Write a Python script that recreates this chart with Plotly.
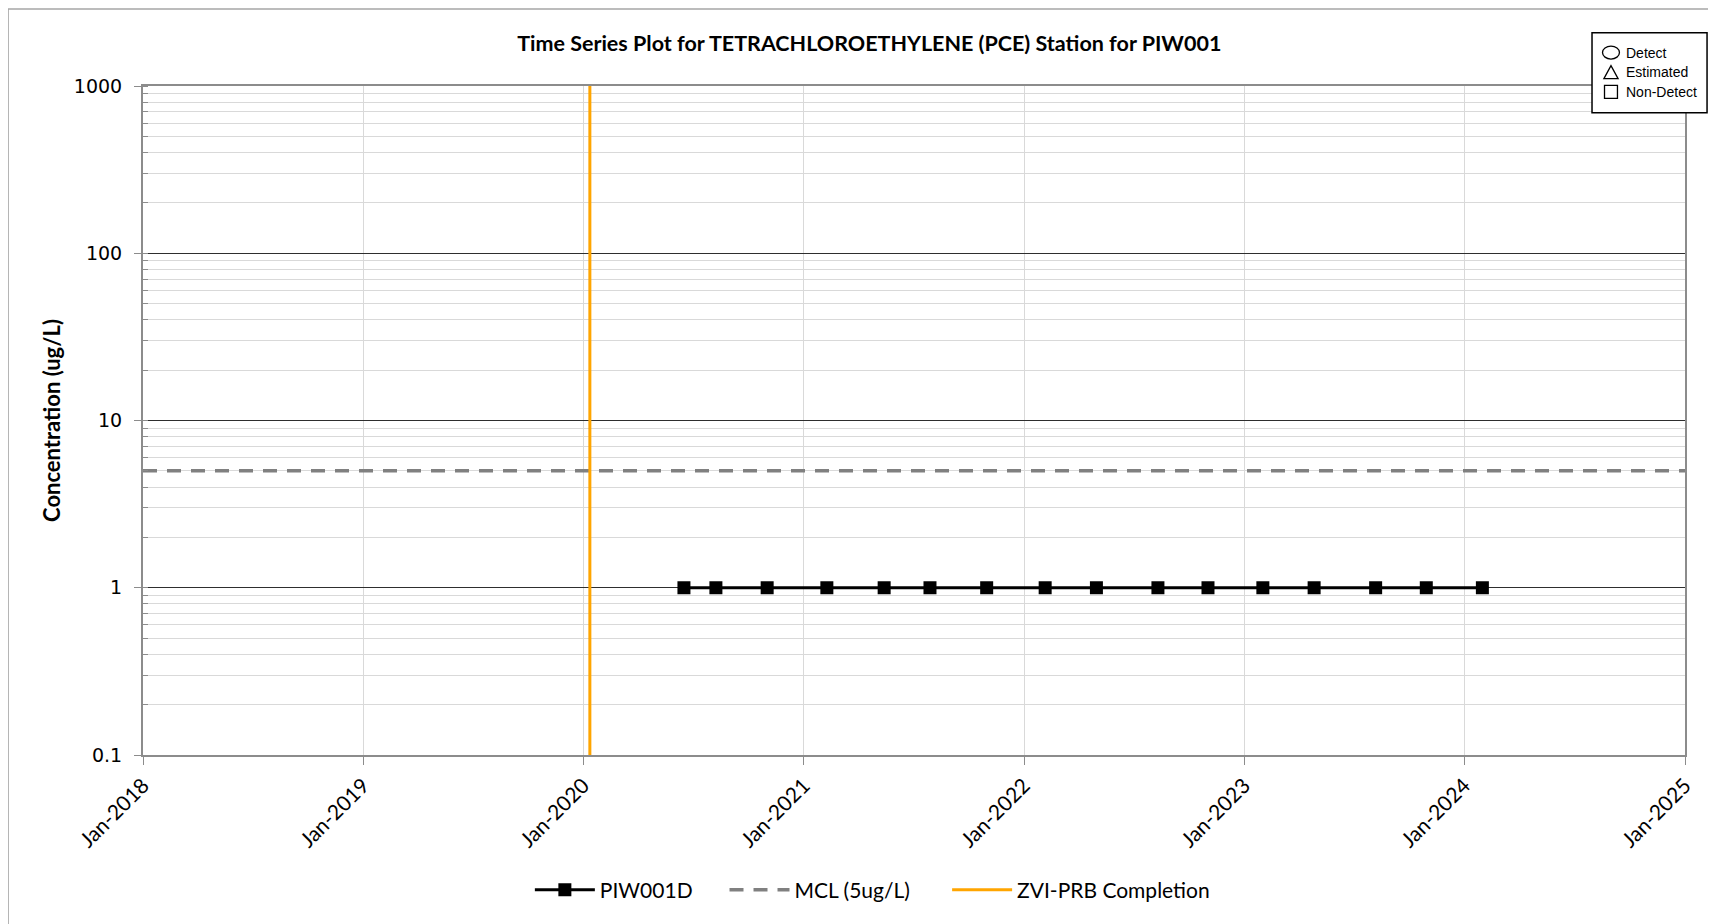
import plotly.graph_objects as go

# sampling dates and results for PIW001D (non-detects plotted at 1 ug/L)
sample_dates = ["2020-06-16", "2020-08-08", "2020-11-01", "2021-02-08", "2021-05-14",
                "2021-07-29", "2021-10-31", "2022-02-05", "2022-05-01", "2022-08-11",
                "2022-11-02", "2023-02-01", "2023-04-27", "2023-08-07", "2023-10-30",
                "2024-01-31"]
pce_values = [1, 1, 1, 1, 1, 1, 1, 1, 1, 1, 1, 1, 1, 1, 1, 1]

mcl_dates = ["2018-01-01", "2025-01-01"]
mcl_values = [5, 5]

zvi_dates = ["2020-01-12", "2020-01-12"]
zvi_values = [0.1, 1000]

y_tickvals = [0.1, 1, 10, 100, 1000]
y_ticktext = ["0.1", "1", "10", "100", "1000"]

key_labels = ["Detect", "Estimated", "Non-Detect"]

LABEL_FONT = "Lato, 'Open Sans', sans-serif"
KEY_FONT = "'Liberation Sans', Arial, sans-serif"
GRID_MINOR = "#D9D9D9"
AXIS_GRAY = "#8C8C8C"
NBSP = "\u00a0"  # extra room between legend entries

fig = go.Figure()

fig.add_trace(go.Scatter(
    x=sample_dates, y=pce_values, name="PIW001D" + NBSP * 5,
    mode="lines+markers",
    line=dict(color="black", width=3),
    marker=dict(symbol="square", size=13, color="black"),
))
fig.add_trace(go.Scatter(
    x=mcl_dates, y=mcl_values, name="MCL (5ug/L)" + NBSP * 6,
    mode="lines",
    line=dict(color="#808080", width=3.5, dash="14px,10px"),
))
fig.add_trace(go.Scatter(
    x=zvi_dates, y=zvi_values, name="ZVI-PRB Completion",
    mode="lines",
    line=dict(color="#FFA500", width=3),
))

# page body has an 8px margin, so the figure is drawn 8px smaller
fig.update_layout(
    width=1708, height=916,
    paper_bgcolor="white", plot_bgcolor="white",
    margin=dict(l=135, r=31, t=78, b=169),
    font=dict(family=LABEL_FONT, color="black"),
    title=dict(
        text="<b>Time Series Plot for TETRACHLOROETHYLENE (PCE) Station for PIW001</b>",
        x=0.471, xref="paper", xanchor="center",
        y=0.961, yref="container", yanchor="middle",
        font=dict(size=21.5, family=LABEL_FONT),
    ),
    legend=dict(
        orientation="h", x=0.473, xanchor="center", y=-0.202, yanchor="middle",
        font=dict(size=21, family=LABEL_FONT),
        itemwidth=60,
    ),
    showlegend=True,
)

fig.update_xaxes(
    type="date",
    range=["2018-01-01", "2025-01-01"],
    dtick="M12", tick0="2018-01-01",
    tickformat="%b-%Y", tickangle=-45,
    tickfont=dict(size=21, family=LABEL_FONT),
    ticks="outside", ticklen=8, tickcolor=AXIS_GRAY,
    showgrid=True, gridcolor=GRID_MINOR, gridwidth=1,
    showline=True, linecolor=AXIS_GRAY, linewidth=2, mirror=True,
    zeroline=False,
)

fig.update_yaxes(
    type="log",
    range=[-1, 3],
    tickvals=y_tickvals, ticktext=y_ticktext,
    tickfont=dict(size=19, family="DejaVu Sans"),
    ticks="outside", ticklen=7, tickcolor=AXIS_GRAY,
    ticklabelstandoff=8,
    showgrid=True, gridcolor="#2E2E2E", gridwidth=1,
    minor=dict(dtick="D1", showgrid=True, gridcolor=GRID_MINOR,
               ticks="inside", ticklen=5, tickcolor=AXIS_GRAY),
    showline=True, linecolor=AXIS_GRAY, linewidth=2, mirror=True,
    title=dict(text="<b>Concentration (ug/L)</b>", font=dict(size=22, family=LABEL_FONT),
               standoff=7),
    zeroline=False,
)

# outer chart frame
fig.add_shape(type="rect", xref="paper", yref="paper",
              x0=-0.0875, x1=1.03, y0=-0.26, y1=1.115,
              line=dict(color="#A6A6A6", width=1.5), layer="below")

# symbol key box (top right)
fig.add_shape(type="rect", xref="paper", yref="paper",
              x0=0.9397, x1=1.0143, y0=0.960, y1=1.0795,
              line=dict(color="black", width=1.5), fillcolor="white")
key_rows = [1.050, 1.0206, 0.9912]
kx = 0.952
sym_line = dict(color="black", width=1.3)
hy = 0.0097
fig.add_shape(type="circle", xref="paper", yref="paper",
              x0=kx - 0.0055, x1=kx + 0.0055, y0=key_rows[0] - hy, y1=key_rows[0] + hy,
              line=sym_line)
fig.add_shape(type="path", xref="paper", yref="paper",
              path=f"M {kx - 0.0046} {key_rows[1] - hy} L {kx + 0.0046} {key_rows[1] - hy} "
                   f"L {kx} {key_rows[1] + hy} Z",
              line=sym_line)
fig.add_shape(type="rect", xref="paper", yref="paper",
              x0=kx - 0.0042, x1=kx + 0.0042, y0=key_rows[2] - hy, y1=key_rows[2] + hy,
              line=sym_line)
for lab, yy in zip(key_labels, key_rows):
    fig.add_annotation(xref="paper", yref="paper", x=0.9605, y=yy,
                       xanchor="left", yanchor="middle", text=lab, showarrow=False,
                       font=dict(size=14, family=KEY_FONT, color="black"))

fig.write_html("out.html")
